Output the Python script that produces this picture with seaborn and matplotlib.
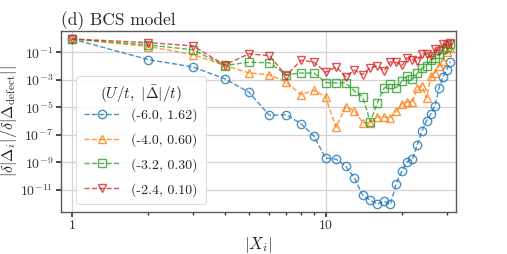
import matplotlib
matplotlib.use("Agg")
import matplotlib.pyplot as plt
from matplotlib.ticker import LogLocator, NullLocator, NullFormatter
import numpy as np
import pandas as pd
import seaborn as sns

# --------------------------------------------------------------------------- #
# Datos
# --------------------------------------------------------------------------- #
dist = list(range(1, 32))

labels = ["(-6.0, 1.62)", "(-4.0, 0.60)", "(-3.2, 0.30)", "(-2.4, 0.10)"]
markers = ["o", "^", "s", "v"]

resp_u60 = [0.93, 2.9e-2, 8.5e-3, 1.2e-3, 1.2e-4, 2.6e-6, 2.9e-6, 6.3e-7,
            8.1e-8, 2.0e-9, 1.7e-9, 5.2e-10, 7.4e-11, 3.9e-12, 1.8e-12,
            9.1e-13, 1.5e-12, 8.7e-13, 2.8e-11, 2.4e-10, 1.1e-9, 1.7e-9,
            1.9e-8, 1.9e-7, 1.05e-6, 3.2e-6, 1.3e-5, 2.5e-4, 1.6e-3,
            5.0e-3, 2.1e-2]
resp_u40 = [0.93, 0.26, 6.8e-2, 1.1e-2, 3.1e-3, 2.3e-3, 6.6e-4, 8.3e-5,
            1.7e-4, 5.6e-5, 3.5e-7, 1.1e-5, 5.5e-6, 7.6e-7, 7.1e-7,
            2.0e-6, 2.0e-6, 1.7e-6, 5.0e-6, 1.8e-5, 2.4e-5, 2.4e-5,
            2.6e-4, 3.5e-4, 4.6e-5, 1.8e-3, 3.3e-3, 1.0e-2, 2.3e-2,
            0.1, 0.2]
resp_u32 = [0.93, 0.34, 0.15, 1.07e-2, 1.9e-2, 1.7e-2, 2.3e-3, 3.1e-3,
            3.1e-3, 6.3e-4, 5.9e-4, 5.9e-4, 1.5e-4, 6.0e-5, 8.9e-7,
            2.1e-5, 2.4e-4, 4.9e-4, 2.6e-4, 8.1e-4, 1.9e-3, 1.1e-3,
            3.0e-3, 6.9e-3, 1.07e-2, 2.8e-2, 3.6e-2, 7.0e-2, 0.17,
            0.25, 0.38]
resp_u24 = [0.93, 0.5, 0.29, 1.2e-2, 7.6e-2, 5.6e-2, 2.0e-3, 2.6e-2,
            1.9e-2, 3.5e-3, 8.5e-3, 1.7e-3, 5.0e-3, 2.4e-3, 7.6e-3,
            9.8e-3, 4.4e-3, 2.0e-2, 1.8e-2, 1.1e-2, 3.8e-2, 2.9e-2,
            2.2e-2, 7.6e-2, 7.6e-2, 5.1e-2, 0.17, 0.13, 0.4,
            0.32, 0.48]

series = [resp_u60, resp_u40, resp_u32, resp_u24]

y_ticks = [1e-11, 1e-9, 1e-7, 1e-5, 1e-3, 1e-1]

# --------------------------------------------------------------------------- #
# Estilo
# --------------------------------------------------------------------------- #
sns.set_theme(style="whitegrid", rc={
    "axes.edgecolor": "0.35",
    "axes.linewidth": 1.0,
    "grid.color": "0.83",
    "grid.linewidth": 0.9,
    "xtick.bottom": True,
    "ytick.left": True,
    "xtick.color": "0.2",
    "ytick.color": "0.2",
    "xtick.major.size": 3.5,
    "xtick.minor.size": 2.0,
    "ytick.major.size": 3.5,
})
plt.rcParams["font.family"] = ["cmr10", "DejaVu Serif"]
plt.rcParams["mathtext.fontset"] = "cm"
plt.rcParams["axes.formatter.use_mathtext"] = True
plt.rcParams["axes.unicode_minus"] = False

colors = sns.color_palette("tab10", 4)

fig = plt.figure(figsize=(5.07, 2.54), dpi=100)
ax = fig.add_axes([0.120, 0.165, 0.779, 0.713])

for vals, lab, mk, col in zip(series, labels, markers, colors):
    df = pd.DataFrame({"x": dist, "y": vals})
    sns.lineplot(data=df, x="x", y="y", ax=ax, color=col, label=lab,
                 marker=mk, markersize=6, markerfacecolor="none",
                 markeredgecolor=col, markeredgewidth=1.0, linestyle="--",
                 linewidth=1.0, alpha=0.8)

ax.set_xscale("log")
ax.set_yscale("log")
ax.set_xlim(0.905, 32.6)
ax.set_ylim(2.4e-13, 3.5)
ax.set_xticks([1, 10])
ax.set_xticklabels(["1", "10"])
ax.xaxis.set_minor_locator(LogLocator(base=10, subs=np.arange(2, 10)))
ax.xaxis.set_minor_formatter(NullFormatter())
ax.set_yticks(y_ticks)
ax.yaxis.set_minor_locator(NullLocator())
ax.tick_params(labelsize=10, pad=2)
ax.grid(True, which="major")

ax.set_xlabel(r"$|X_i|$", fontsize=12, labelpad=2)
ax.set_ylabel(r"$|\delta|\Delta_i|/\delta|\Delta_{\mathrm{defect}}||$",
              fontsize=11.5, labelpad=0)
ax.yaxis.set_label_coords(-0.105, 0.5)
ax.set_title("(d) BCS model", loc="left", fontsize=12.5, pad=4)

leg = ax.legend(title=r"$(U/t,\ |\bar{\Delta}|/t)$", loc="lower left",
                bbox_to_anchor=(0.022, 0.005), fontsize=10, title_fontsize=11,
                handlelength=2.6, labelspacing=0.8, borderpad=0.55,
                framealpha=0.9, edgecolor="0.85")
leg.get_frame().set_linewidth(0.8)
# acercar el título de la leyenda a las entradas
leg._legend_box.sep = 2

fig.savefig("out.png", dpi=100)
